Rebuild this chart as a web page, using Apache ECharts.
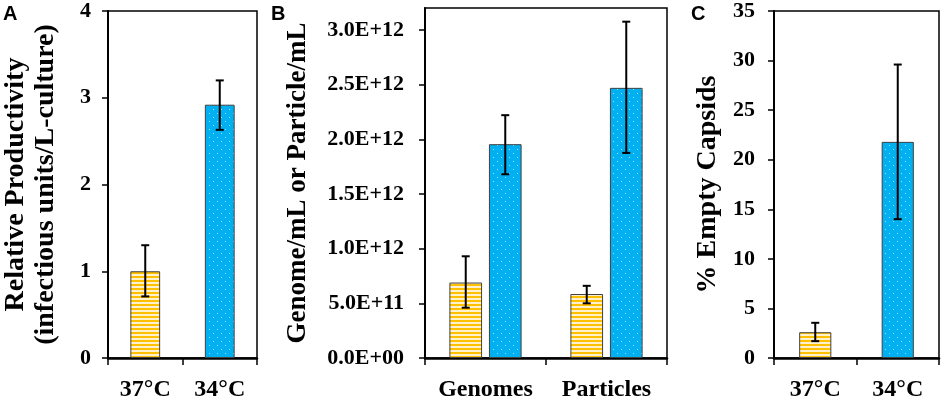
<!DOCTYPE html>
<html>
<head>
<meta charset="utf-8">
<script src="https://cdn.jsdelivr.net/npm/echarts@6/dist/echarts.min.js"></script>
<style>
html, body { margin: 0; padding: 0; background: #fff; }
#main { width: 941px; height: 402px; }
</style>
</head>
<body>
<div id="main"></div>
<script>
// panel A - relative productivity
var tempCats = ['37°C', '34°C'];
var prodMean = [1.0, 2.92];
var prodLow = [0.71, 2.63];
var prodHigh = [1.30, 3.20];

// panel B - genome / particle titers
var titerCats = ['Genomes', 'Particles'];
var titer37 = [6.9e11, 5.85e11];
var titer37Low = [4.6e11, 5.0e11];
var titer37High = [9.3e11, 6.6e11];
var titer34 = [1.955e12, 2.47e12];
var titer34Low = [1.68e12, 1.875e12];
var titer34High = [2.22e12, 3.075e12];

// panel C - % empty capsids
var emptyMean = [2.6, 21.8];
var emptyLow = [1.7, 14.0];
var emptyHigh = [3.55, 29.6];

// fill patterns
function stripeFill() {
  var c = document.createElement('canvas');
  c.width = 4; c.height = 4;
  var g = c.getContext('2d');
  g.fillStyle = '#FFF1CC';
  g.fillRect(0, 0, 4, 4);
  g.fillStyle = '#FFC000';
  g.fillRect(0, 0, 4, 2);
  return { image: c, repeat: 'repeat' };
}
function dotFill() {
  var c = document.createElement('canvas');
  c.width = 8; c.height = 8;
  var g = c.getContext('2d');
  g.fillStyle = '#00B0F0';
  g.fillRect(0, 0, 8, 8);
  g.fillStyle = '#A8E2FA';
  g.fillRect(1, 1, 1, 1);
  g.fillRect(5, 5, 1, 1);
  return { image: c, repeat: 'repeat' };
}
var yellow = stripeFill();
var blue = dotFill();

var serif = 'Liberation Serif';

function zip(a, b) {
  return a.map(function (v, i) { return [i, v, b[i]]; });
}

function errorBars(offsetFrac) {
  return function (params, api) {
    var catW = api.size([1, 0])[0];
    var x = api.coord([api.value(0), 0])[0] + offsetFrac * catW;
    var lo = api.coord([api.value(0), api.value(1)])[1];
    var hi = api.coord([api.value(0), api.value(2)])[1];
    var st = { stroke: '#000', lineWidth: 2 };
    return {
      type: 'group',
      children: [
        { type: 'line', shape: { x1: x, y1: lo, x2: x, y2: hi }, style: st },
        { type: 'line', shape: { x1: x - 4, y1: hi, x2: x + 4, y2: hi }, style: st },
        { type: 'line', shape: { x1: x - 4, y1: lo, x2: x + 4, y2: lo }, style: st }
      ]
    };
  };
}

function sciLabel(v) {
  var s = Number(v).toExponential(1).toUpperCase();
  var parts = s.split('E');
  var sign = parts[1].charAt(0);
  var exp = parts[1].slice(1);
  if (exp.length < 2) exp = '0' + exp;
  return parts[0] + 'E' + sign + exp;
}

function xAxisFor(idx, cats) {
  return {
    type: 'category',
    gridIndex: idx,
    data: cats,
    axisLine: { lineStyle: { color: '#000', width: 2.5 } },
    axisTick: { show: true, length: 7, lineStyle: { color: '#000', width: 1.5 } },
    axisLabel: { interval: 0, hideOverlap: false, color: '#000', fontFamily: serif, fontWeight: 'bold', fontSize: 24, margin: 20 }
  };
}

function yAxisFor(idx, max, interval, name, gap, margin, nameSize) {
  return {
    type: 'value',
    gridIndex: idx,
    min: 0,
    max: max,
    interval: interval,
    name: name,
    nameLocation: 'middle',
    nameRotate: 90,
    nameGap: gap,
    nameTextStyle: { color: '#000', fontFamily: serif, fontWeight: 'bold', fontSize: nameSize, lineHeight: 30 },
    axisLine: { show: true, lineStyle: { color: '#000', width: 2 } },
    axisTick: { show: true, length: 6, lineStyle: { color: '#000', width: 1.5 } },
    splitLine: { show: false },
    axisLabel: { color: '#000', fontFamily: serif, fontWeight: 'bold', fontSize: 22, margin: margin }
  };
}

var gridBase = { top: 8, height: 350, show: true, borderColor: '#000', borderWidth: 1.5, backgroundColor: 'transparent' };
var letterStyle = { fontFamily: 'Liberation Sans', fontWeight: 'bold', fontSize: 20, color: '#000' };

var chart = echarts.init(document.getElementById('main'));

var yB = yAxisFor(1, 3.2e12, 5e11, 'Genome/mL or Particle/mL', 112, 21, 27);
yB.axisLabel.formatter = sciLabel;
yB.axisLabel.showMaxLabel = false;

var option = {
  animation: false,
  backgroundColor: '#fff',
  title: [
    { text: 'A', left: 3, top: 4, padding: 0, textStyle: letterStyle },
    { text: 'B', left: 271, top: 4, padding: 0, textStyle: letterStyle },
    { text: 'C', left: 691, top: 4, padding: 0, textStyle: letterStyle }
  ],
  grid: [
    Object.assign({ left: 97, width: 160 }, gridBase),
    Object.assign({ left: 425, width: 242 }, gridBase),
    Object.assign({ left: 774, width: 165 }, gridBase)
  ],
  xAxis: [
    xAxisFor(0, tempCats),
    xAxisFor(1, titerCats),
    xAxisFor(2, tempCats)
  ],
  yAxis: [
    yAxisFor(0, 4, 1, 'Relative Productivity\n(infectious units/L-culture)', 47, 17, 28),
    yB,
    yAxisFor(2, 35, 5, '% Empty Capsids', 51, 19, 28)
  ],
  series: [
    {
      type: 'bar', xAxisIndex: 0, yAxisIndex: 0, barWidth: '40%',
      itemStyle: { borderColor: '#404040', borderWidth: 1 },
      data: prodMean.map(function (v, i) { return { value: v, itemStyle: { color: i === 0 ? yellow : blue } }; })
    },
    {
      type: 'custom', xAxisIndex: 0, yAxisIndex: 0, renderItem: errorBars(0),
      encode: { x: 0, y: [1, 2] }, data: zip(prodLow, prodHigh), z: 10
    },
    {
      type: 'bar', xAxisIndex: 1, yAxisIndex: 1, barWidth: '27%', barGap: '21%',
      itemStyle: { color: yellow, borderColor: '#404040', borderWidth: 1 },
      data: titer37
    },
    {
      type: 'bar', xAxisIndex: 1, yAxisIndex: 1, barWidth: '27%', barGap: '21%',
      itemStyle: { color: blue, borderColor: '#404040', borderWidth: 1 },
      data: titer34
    },
    {
      type: 'custom', xAxisIndex: 1, yAxisIndex: 1, renderItem: errorBars(-0.27 * 1.21 / 2),
      encode: { x: 0, y: [1, 2] }, data: zip(titer37Low, titer37High), z: 10
    },
    {
      type: 'custom', xAxisIndex: 1, yAxisIndex: 1, renderItem: errorBars(0.27 * 1.21 / 2),
      encode: { x: 0, y: [1, 2] }, data: zip(titer34Low, titer34High), z: 10
    },
    {
      type: 'bar', xAxisIndex: 2, yAxisIndex: 2, barWidth: '39%',
      itemStyle: { borderColor: '#404040', borderWidth: 1 },
      data: emptyMean.map(function (v, i) { return { value: v, itemStyle: { color: i === 0 ? yellow : blue } }; })
    },
    {
      type: 'custom', xAxisIndex: 2, yAxisIndex: 2, renderItem: errorBars(0),
      encode: { x: 0, y: [1, 2] }, data: zip(emptyLow, emptyHigh), z: 10
    }
  ]
};

chart.setOption(option);
</script>
</body>
</html>
